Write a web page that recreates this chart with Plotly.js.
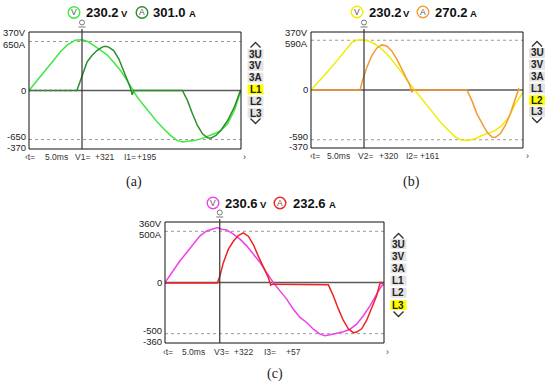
<!DOCTYPE html>
<html><head><meta charset="utf-8">
<script src="https://cdn.plot.ly/plotly-3.0.1.min.js"></script>
<style>html,body{margin:0;padding:0;background:#fff;}#chart{width:550px;height:387px;}</style>
</head><body><div id="chart"></div>
<script>
// ---- data ----
const panelLabels = ['(a)', '(b)', '(c)'];
const phaseNames = ['1', '2', '3'];
const vRms = ['230.2', '230.2', '230.6'];
const iRms = ['301.0', '270.2', '232.6'];
const vCursor = ['+321', '+320', '+322'];
const iCursor = ['+195', '+161', '+57'];
const cursorMs = 5.0;
const vScale = [370, 370, 360];
const iScale = [650, 590, 500];
const menuItems = ['3U', '3V', '3A', 'L1', 'L2', 'L3'];
const selectedItem = ['L1', 'L2', 'L3'];

// panel (a) phase L1
const tVa = [0,0.41,1.04,1.67,2.31,2.94,3.57,4.04,4.36,4.99,5.47,6.10,6.73,7.36,7.99,8.63,9.26,9.79,10.21,10.84,11.47,12.10,12.73,13.37,14.00,14.47,14.95,15.58,16.21,16.84,17.47,18.10,18.74,19.37,19.84,20.0];
const vVa = [0,32,84,137,190,243,285,306,318,321,312,285,257,226,179,127,63,4,-42,-95,-148,-200,-243,-285,-317,-325,-321,-317,-306,-291,-274,-253,-211,-127,-32,0];
const tIa = [0,4.52,4.83,5.15,5.47,5.94,6.41,6.89,7.20,7.52,7.99,8.47,8.78,9.19,9.57,9.73,9.89,14.47,14.95,15.42,15.89,16.37,16.84,17.16,17.63,18.10,18.74,19.37,19.75,19.94];
const iIa = [0,0,133,265,376,464,530,575,588,575,530,420,309,155,35,-57,0,0,-133,-309,-464,-575,-628,-632,-597,-530,-398,-221,-66,0];

// panel (b) phase L2
const tVb = [0,0.69,1.64,2.58,3.21,3.84,4.31,4.79,5.42,6.05,6.68,7.31,7.94,8.57,9.20,9.83,10.46,11.09,11.72,12.35,12.98,13.61,14.24,14.87,15.50,16.13,16.76,17.39,18.02,18.65,19.28,19.75,20];
const vVb = [0,49,123,197,249,302,317,320,313,292,260,218,165,112,49,-4,-57,-110,-163,-216,-258,-300,-321,-321,-311,-290,-275,-258,-226,-173,-89,-36,-15];
const tIb = [0,4.63,4.85,5.26,5.73,6.20,6.68,7.15,7.62,8.09,8.57,9.04,9.35,9.51,9.67,14.71,15.18,15.65,16.13,16.60,17.07,17.39,17.86,18.33,18.80,19.21,19.43,19.59,19.75];
const iIb = [0,0,110,267,405,496,535,523,464,366,248,130,51,-28,0,0,-126,-283,-401,-499,-558,-562,-519,-421,-283,-126,-28,12,-8];

// panel (c) phase L3
const tVc = [0,0.30,0.76,1.37,1.98,2.59,3.20,3.81,4.41,4.78,5.17,5.63,6.24,6.85,7.46,8.07,8.68,9.28,9.89,10.50,11.11,11.72,12.33,12.94,13.55,14.16,14.61,15.07,15.68,16.29,16.89,17.50,18.11,18.72,19.33,19.79,20];
const vVc = [0,30,69,129,178,228,278,307,321,327,317,313,288,258,218,169,119,59,0,-50,-99,-159,-208,-238,-278,-307,-317,-311,-301,-293,-278,-248,-198,-139,-69,-20,-10];
const tIc = [0,4.78,5.02,5.33,5.78,6.24,6.70,7.15,7.61,8.07,8.52,8.98,9.44,9.65,9.83,14.92,15.37,15.83,16.29,16.74,17.20,17.50,17.96,18.41,18.87,19.33,19.57,19.70,19.85];
const iIc = [-6,-6,65,194,323,403,458,484,452,371,258,145,48,-26,-16,-23,-129,-258,-371,-452,-490,-484,-452,-371,-258,-129,-32,6,-16];

const tV = [tVa, tVb, tVc], vV = [vVa, vVb, vVc];
const tI = [tIa, tIb, tIc], iI = [iIa, iIb, iIc];

// ---- styling / geometry ----
const vColors = ['#3fe83f', '#f0ec00', '#ee40ee'];
const iColors = ['#2b8f2b', '#f59a33', '#ee2222'];
const W = 550, H = 387;
const X = x => x / W, Y = y => 1 - y / H;
const geo = [
  {l:29, r:241, t:32, b:149, iRange:776, titleY:12.5, circV:74, valV:84, unitV:124, circA:142, valA:151, unitA:192,
   statusY:157, st:[23,43,73,93,122,135,244], menuX:255.5, menuY0:54, menuStep:11.8, chevUp:45, chevDn:121, label:[134,182]},
  {l:311, r:523, t:32, b:148, iRange:688, titleY:12, circV:357, valV:367, unitV:406, circA:423, valA:433, unitA:473,
   statusY:156, st:[308,325,356,377,404,418,527], menuX:537, menuY0:53, menuStep:11.8, chevUp:44, chevDn:120, label:[411,182]},
  {l:165, r:384, t:222, b:343, iRange:591, titleY:203, circV:213, valV:223, unitV:263, circA:280, valA:291, unitA:332,
   statusY:352, st:[161,180,212,232,262,284,387], menuX:398.5, menuY0:244, menuStep:12.2, chevUp:236, chevDn:314, label:[275,374]}
];
const FONT = 'Liberation Sans, Arial, sans-serif';

const data = [];
const layout = {
  width: W, height: H, margin: {l:0, r:0, t:0, b:0},
  paper_bgcolor: '#ffffff', plot_bgcolor: '#ffffff',
  showlegend: false, shapes: [], annotations: [], font: {family: FONT}
};

function ann(text, x, y, o) {
  o = o || {};
  layout.annotations.push({
    text: text, xref: 'paper', yref: 'paper', x: X(x), y: Y(y), showarrow: false,
    xanchor: o.xa || 'left', yanchor: 'middle',
    font: {family: o.family || FONT, size: o.size || 10, color: o.color || '#222', weight: o.weight || 'normal'}
  });
}

for (let p = 0; p < 3; p++) {
  const g = geo[p];
  const xa = p === 0 ? 'x' : 'x' + (p + 1);
  const yv = p === 0 ? 'y' : 'y' + (2 * p + 1);
  const yi = 'y' + (2 * p + 2);
  const xName = 'xaxis' + (p === 0 ? '' : p + 1);
  const yvName = 'yaxis' + (p === 0 ? '' : 2 * p + 1);
  const yiName = 'yaxis' + (2 * p + 2);
  layout[xName] = {domain: [X(g.l), X(g.r)], range: [0, 20], visible: false, anchor: yv, fixedrange: true};
  layout[yvName] = {domain: [Y(g.b), Y(g.t)], range: [-vScale[p], vScale[p]], visible: false, anchor: xa, fixedrange: true};
  layout[yiName] = {overlaying: yv, range: [-g.iRange, g.iRange], visible: false, anchor: xa, fixedrange: true};

  // zero line and dotted current-scale lines
  layout.shapes.push({type:'line', xref: xa + ' domain', x0:0, x1:1, yref: yv, y0:0, y1:0,
    line:{color:'#5a5a5a', width:1.6}, layer:'below'});
  [-1, 1].forEach(s => layout.shapes.push({type:'line', xref: xa + ' domain', x0:0, x1:1, yref: yi,
    y0: s * iScale[p], y1: s * iScale[p], line:{color:'#9a9a9a', width:1, dash:'dot'}, layer:'below'}));
  // box
  layout.shapes.push({type:'rect', xref: xa + ' domain', x0:0, x1:1, yref: yv + ' domain', y0:0, y1:1,
    line:{color:'#111', width:1}});
  // cursor
  const ph = g.b - g.t;
  layout.shapes.push({type:'line', xref: xa, x0: cursorMs, x1: cursorMs, yref: yv + ' domain', y0: 0, y1: 1 + 3 / ph,
    line:{color:'#333', width:1.2}});
  layout.shapes.push({type:'circle', xref: xa, xsizemode:'pixel', xanchor: cursorMs, x0:-2.5, x1:2.5,
    yref:'paper', ysizemode:'pixel', yanchor: Y(g.t - 8), y0:-1, y1:4, line:{color:'#777', width:1}});
  layout.shapes.push({type:'line', xref: xa, xsizemode:'pixel', xanchor: cursorMs, x0:-3.5, x1:3.5,
    yref:'paper', ysizemode:'pixel', yanchor: Y(g.t - 5), y0:0, y1:0, line:{color:'#777', width:1}});

  // traces
  data.push({type:'scatter', mode:'lines', x: tV[p], y: vV[p], xaxis: xa, yaxis: yv,
    line:{color: vColors[p], width:1.5}, hoverinfo:'skip'});
  if (p === 0) {
    data.push({type:'scatter', mode:'lines', x: tI[p].slice(0, 2), y: iI[p].slice(0, 2), xaxis: xa, yaxis: yi,
      line:{color: iColors[p], width:1.5, dash:'3px,2px'}, hoverinfo:'skip'});
    data.push({type:'scatter', mode:'lines', x: tI[p].slice(1), y: iI[p].slice(1), xaxis: xa, yaxis: yi,
      line:{color: iColors[p], width:1.5}, hoverinfo:'skip'});
  } else {
    data.push({type:'scatter', mode:'lines', x: tI[p], y: iI[p], xaxis: xa, yaxis: yi,
      line:{color: iColors[p], width:1.5}, hoverinfo:'skip'});
  }

  // scale labels
  const lab = (text, yref, yval, shift) => layout.annotations.push({text: text, xref: xa + ' domain', x: 0,
    xanchor:'right', xshift:-1, yref: yref, y: yval, yanchor:'middle', yshift: shift, showarrow:false,
    font:{family: FONT, size:9.5, color:'#222'}});
  lab(vScale[p] + 'V', yv, vScale[p], -1);
  lab(iScale[p] + 'A', yi, iScale[p], -3.5);
  lab('0', yv, 0, 0);
  lab('-' + iScale[p], yi, -iScale[p], 3);
  lab('-' + vScale[p], yv, -vScale[p], 1.5);

  // title with circled V / A
  const r = 5.8;
  [[g.circV, vColors[p], 'V'], [g.circA, iColors[p], 'A']].forEach(c => {
    layout.shapes.push({type:'circle', xref:'paper', yref:'paper', x0: X(c[0] - r), x1: X(c[0] + r),
      y0: Y(g.titleY + r), y1: Y(g.titleY - r), line:{color: c[1], width:1.4}});
    ann(c[2], c[0], g.titleY, {xa:'center', size:8.5, color: '#555'});
  });
  ann(vRms[p], g.valV, g.titleY, {size:13, weight:'bold', color:'#111'});
  ann('V', g.unitV, g.titleY + 1, {xa:'center', size:9.5, weight:'bold', color:'#111'});
  ann(iRms[p], g.valA, g.titleY, {size:13, weight:'bold', color:'#111'});
  ann('A', g.unitA, g.titleY + 1, {xa:'center', size:9.5, weight:'bold', color:'#111'});

  // status line
  const sOpt = {size:8.5, color:'#333'};
  ann('\u2039t=', g.st[0], g.statusY, sOpt);
  ann(cursorMs.toFixed(1) + 'ms', g.st[1], g.statusY, sOpt);
  ann('V' + phaseNames[p] + '=', g.st[2], g.statusY, sOpt);
  ann(vCursor[p], g.st[3], g.statusY, sOpt);
  ann('I' + phaseNames[p] + '=', g.st[4], g.statusY, sOpt);
  ann(iCursor[p], g.st[5], g.statusY, sOpt);
  ann('\u203A', g.st[6], g.statusY, {xa:'center', size:9, color:'#333'});

  // side menu
  menuItems.forEach((m, k) => {
    const cy = g.menuY0 + k * g.menuStep;
    const sel = m === selectedItem[p];
    layout.shapes.push({type:'rect', xref:'paper', yref:'paper', x0: X(g.menuX - 8), x1: X(g.menuX + 8),
      y0: Y(cy + 5), y1: Y(cy - 5), fillcolor: sel ? '#ffff00' : '#e4e4e4', line:{width:0}});
    ann(m, g.menuX, cy, {xa:'center', size:10, weight:'bold', color:'#222'});
  });
  const chev = (cy, up) => {
    const d = up ? -2.5 : 2.5;
    return 'M' + X(g.menuX - 5) + ',' + Y(cy - d) + ' L' + X(g.menuX) + ',' + Y(cy + d) + ' L' + X(g.menuX + 5) + ',' + Y(cy - d);
  };
  layout.shapes.push({type:'path', xref:'paper', yref:'paper', path: chev(g.chevUp, true), line:{color:'#333', width:1.4}});
  layout.shapes.push({type:'path', xref:'paper', yref:'paper', path: chev(g.chevDn, false), line:{color:'#333', width:1.4}});

  // panel label
  ann(panelLabels[p], g.label[0], g.label[1], {xa:'center', size:14, family:'Liberation Serif, Times New Roman, serif', color:'#222'});
}

Plotly.newPlot('chart', data, layout, {staticPlot: true, displayModeBar: false});
</script>
</body></html>
